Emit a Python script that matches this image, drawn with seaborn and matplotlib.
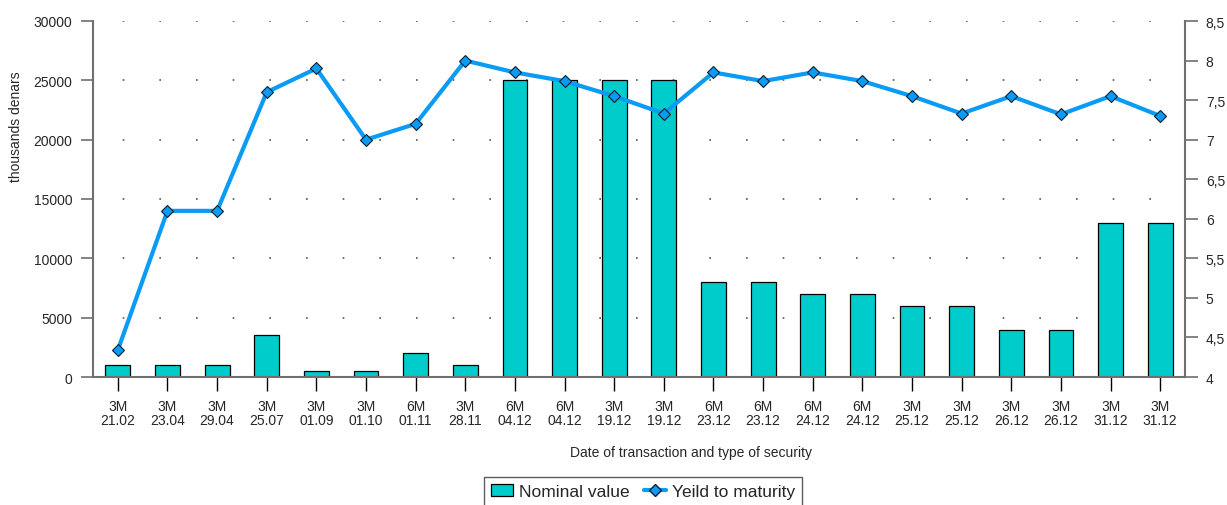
import matplotlib
matplotlib.use("Agg")
import matplotlib.pyplot as plt
import seaborn as sns
import pandas as pd
from matplotlib.lines import Line2D
from matplotlib.patches import Patch

tenor = ["3M", "3M", "3M", "3M", "3M", "3M", "6M", "3M", "6M", "6M", "3M",
         "3M", "6M", "6M", "6M", "6M", "3M", "3M", "3M", "3M", "3M", "3M"]
dates = ["21.02", "23.04", "29.04", "25.07", "01.09", "01.10", "01.11", "28.11",
         "04.12", "04.12", "19.12", "19.12", "23.12", "23.12", "24.12", "24.12",
         "25.12", "25.12", "26.12", "26.12", "31.12", "31.12"]
nominal = [1000, 1000, 1000, 3500, 500, 500, 2000, 1000, 25000, 25000, 25000,
           25000, 8000, 8000, 7000, 7000, 6000, 6000, 4000, 4000, 13000, 13000]
yields = [4.34, 6.10, 6.10, 7.60, 7.90, 7.00, 7.20, 8.00, 7.85, 7.74, 7.55,
          7.33, 7.85, 7.74, 7.85, 7.74, 7.55, 7.33, 7.55, 7.32, 7.55, 7.30]

labels = [f"{t}\n{d}" for t, d in zip(tenor, dates)]
df = pd.DataFrame({"pos": list(range(len(nominal))), "nominal": nominal, "yield": yields})

sns.set_theme(style="white")
plt.rcParams["font.family"] = ["Liberation Sans", "DejaVu Sans"]

BAR = "#00CCCC"
LINE = "#0A9BF5"
AXC = "#707070"

fig = plt.figure(figsize=(12.27, 5.06), dpi=100)
ax = fig.add_axes([93 / 1227, 1 - 378 / 506, (1185 - 93) / 1227, (378 - 22) / 506])

sns.barplot(data=df, x="pos", y="nominal", ax=ax, color=BAR, width=0.5,
            edgecolor="black", linewidth=0.9, saturation=1)
ax.set_xlim(-0.5, len(nominal) - 0.5)
ax.set_ylim(0, 30000)
ax.set_yticks(range(0, 30001, 5000))
ax.set_xticks(range(len(labels)))
ax.set_xticklabels(labels, fontsize=10, linespacing=0.95)
ax.tick_params(axis="y", labelsize=10, length=9, width=1.2, color=AXC, direction="out", left=True, pad=6)
ax.tick_params(axis="x", length=10, width=1, color="black", direction="out", bottom=True, pad=6)
ax.yaxis.grid(True, linestyle=(4.2, (1, 21)), color="#555555", linewidth=1.2)
ax.set_axisbelow(True)
for s in ["top", "right"]:
    ax.spines[s].set_visible(False)
for s in ["left", "bottom"]:
    ax.spines[s].set_color(AXC)
    ax.spines[s].set_linewidth(1.5)
ax.set_xlabel("Date of transaction and type of security", fontsize=10)
ax.xaxis.set_label_coords(0.548, -0.19)
ax.set_ylabel("thousands denars", fontsize=10)
ax.yaxis.set_label_coords(-0.064, 0.705)

ax2 = ax.twinx()
sns.lineplot(data=df, x="pos", y="yield", ax=ax2, color=LINE, linewidth=3,
             marker="D", markersize=6, markerfacecolor=LINE, markeredgecolor="#102030",
             markeredgewidth=0.8)
ax2.set_ylim(4, 8.5)
ax2.set_yticks([4, 4.5, 5, 5.5, 6, 6.5, 7, 7.5, 8, 8.5])
ax2.set_yticklabels(["4", "4,5", "5", "5,5", "6", "6,5", "7", "7,5", "8", "8,5"], fontsize=10)
ax2.tick_params(axis="y", length=9, width=1.2, color=AXC, direction="out", right=True, pad=6)
ax2.set_ylabel("")
ax2.set_xlabel("")
for s in ["top", "left", "bottom"]:
    ax2.spines[s].set_visible(False)
ax2.spines["right"].set_color(AXC)
ax2.spines["right"].set_linewidth(1.5)
ax2.set_xlim(-0.5, len(nominal) - 0.5)

handles = [Patch(facecolor=BAR, edgecolor="black", linewidth=0.9),
           Line2D([0], [0], color=LINE, linewidth=3, marker="D", markersize=6,
                  markerfacecolor=LINE, markeredgecolor="#102030")]
leg = fig.legend(handles, ["Nominal value", "Yeild to maturity"], loc="lower center",
                 bbox_to_anchor=(643 / 1227, -0.02), ncol=2, fontsize=12.5, frameon=True,
                 fancybox=False, edgecolor="#333333", handlelength=1.3, handletextpad=0.35,
                 columnspacing=0.8, borderpad=0.4)
leg.get_frame().set_linewidth(1.0)

fig.savefig("out.png", dpi=100)
